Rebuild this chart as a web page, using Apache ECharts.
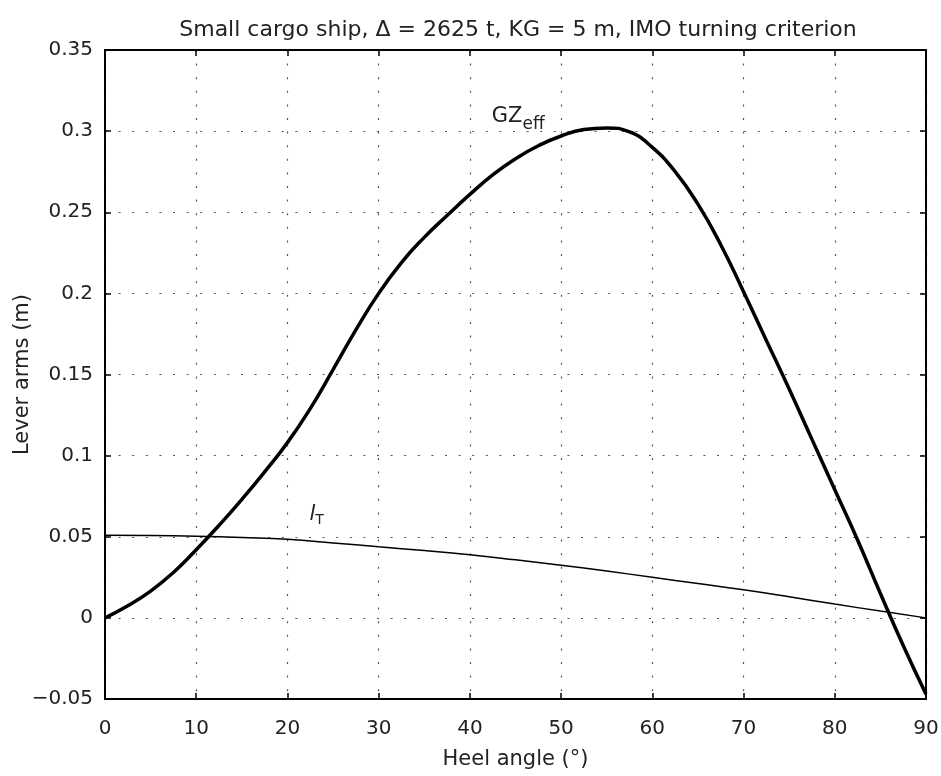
<!DOCTYPE html>
<html>
<head>
<meta charset="utf-8">
<script src="https://cdn.jsdelivr.net/npm/echarts@6/dist/echarts.min.js"></script>
<style>
html,body{margin:0;padding:0;background:#fff;}
#chart{width:941px;height:776px;}
</style>
</head>
<body>
<div id="chart"></div>
<script>
// Data
const titleText = 'Small cargo ship, Δ = 2625 t, KG = 5 m, IMO turning criterion';
const xName = 'Heel angle (°)';
const yName = 'Lever arms (m)';
const heelGZ = [0,2.5,5,7.5,10,12.5,15,17.5,20,22.5,25,27.5,30,32.5,35,37.5,40,42.5,45,47.5,50,52.5,55,57.5,60,62.5,65,67.5,70,72.5,75,77.5,80,82.5,85,87.5,90];
const gzEff = [0,0.0075,0.0165,0.028,0.042,0.057,0.073,0.090,0.108,0.129,0.153,0.1775,0.200,0.219,0.2345,0.248,0.261,0.273,0.283,0.291,0.297,0.301,0.302,0.2995,0.290,0.275,0.255,0.230,0.201,0.171,0.141,0.110,0.079,0.048,0.015,-0.017,-0.047];
const heelLT = [0,5,10,15,20,25,30,35,40,45,50,55,60,65,70,75,80,85,90];
const lT = [0.051,0.0508,0.0503,0.0495,0.0484,0.0462,0.0438,0.0415,0.0389,0.0358,0.0325,0.0289,0.025,0.0212,0.0173,0.013,0.0085,0.0042,0];
const labelGZ = {x: 45.3, y: 0.309};
const labelLT = {x: 23.2, y: 0.0635};

const FONT = 'DejaVu Sans';
const chart = echarts.init(document.getElementById('chart'), null, {renderer: 'canvas'});
const gridDash = [2, 11.6];
const minusFmt = v => {
  const s = String(Math.round(v * 1000) / 1000);
  return s.replace('-', '−');
};
const axisCommon = {
  axisLine: {show: true, onZero: false, lineStyle: {color: '#000', width: 2}},
  axisTick: {show: true, inside: true, length: 6, lineStyle: {color: '#000', width: 1.5}},
};
chart.setOption({
  animation: false,
  backgroundColor: '#fff',
  title: {
    text: titleText, left: 513, textAlign: 'center', top: 14,
    textStyle: {fontFamily: FONT, fontSize: 22, fontWeight: 'normal', color: '#222'}
  },
  grid: {left: 105, right: 15, top: 50, bottom: 77, containLabel: false, outerBoundsMode: 'none'},
  xAxis: [{
    type: 'value', min: 0, max: 90, interval: 10, position: 'bottom',
    name: xName, nameLocation: 'middle', nameGap: 50, nameMoveOverlap: false,
    nameTextStyle: {fontFamily: FONT, fontSize: 21, color: '#222'},
    axisLabel: {fontFamily: FONT, fontSize: 20, color: '#222', margin: 20},
    splitLine: {show: true, lineStyle: {color: '#555', width: 1.2, type: gridDash}},
    ...axisCommon
  }, {
    type: 'value', min: 0, max: 90, interval: 10, position: 'top',
    axisLabel: {show: false}, splitLine: {show: false}, ...axisCommon
  }],
  yAxis: [{
    type: 'value', min: -0.05, max: 0.35, interval: 0.05, position: 'left',
    name: yName, nameLocation: 'middle', nameGap: 72, nameRotate: 90, nameMoveOverlap: false,
    nameTextStyle: {fontFamily: FONT, fontSize: 21, color: '#222'},
    axisLabel: {fontFamily: FONT, fontSize: 20, color: '#222', margin: 12, formatter: minusFmt},
    splitLine: {show: true, lineStyle: {color: '#555', width: 1.2, type: gridDash}},
    ...axisCommon
  }, {
    type: 'value', min: -0.05, max: 0.35, interval: 0.05, position: 'right',
    axisLabel: {show: false}, splitLine: {show: false}, ...axisCommon
  }],
  series: [{
    type: 'line', name: 'GZeff', smooth: 0.5, symbol: 'none',
    data: heelGZ.map((x, i) => [x, gzEff[i]]),
    lineStyle: {color: '#000', width: 3.5}, z: 3,
    markPoint: {
      symbol: 'circle', symbolSize: 0,
      data: [{coord: [labelGZ.x, labelGZ.y], value: 'gz'}],
      label: {show: true, position: 'inside', formatter: '{a|GZ}{b|eff}',
        rich: {
          a: {fontFamily: FONT, fontSize: 21, color: '#222'},
          b: {fontFamily: FONT, fontSize: 17, color: '#222', padding: [16, 0, 0, 0]}
        }}
    }
  }, {
    type: 'line', name: 'lT', smooth: 0.5, symbol: 'none',
    data: heelLT.map((x, i) => [x, lT[i]]),
    lineStyle: {color: '#000', width: 1.5}, z: 2,
    markPoint: {
      symbol: 'circle', symbolSize: 0,
      data: [{coord: [labelLT.x, labelLT.y], value: 'lt'}],
      label: {show: true, position: 'inside', formatter: '{a|l}{b|T}',
        rich: {
          a: {fontFamily: FONT, fontSize: 21, fontStyle: 'italic', color: '#222'},
          b: {fontFamily: FONT, fontSize: 14, color: '#222', padding: [12, 0, 0, 0]}
        }}
    }
  }]
});
</script>
</body>
</html>
